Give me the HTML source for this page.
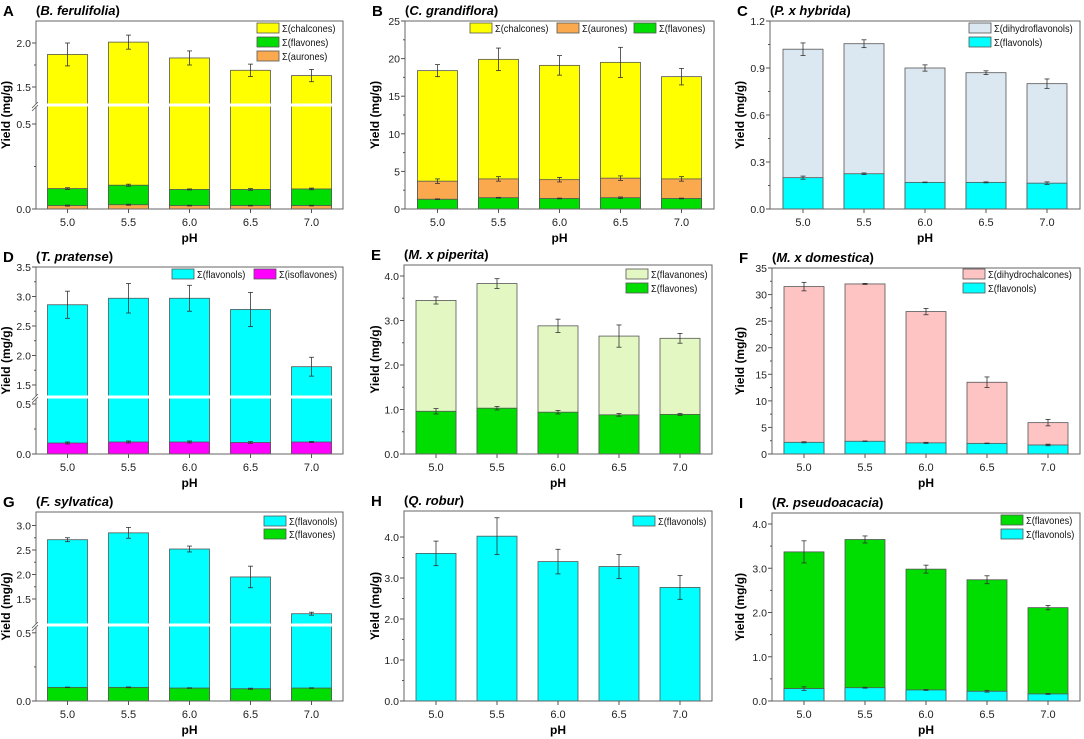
<!DOCTYPE html>
<html><head><meta charset="utf-8"><style>
html,body{margin:0;padding:0;background:#fff;}
svg{display:block;font-family:"Liberation Sans",Arial,sans-serif;}
</style></head><body>
<svg id="fig" width="1084" height="739" viewBox="0 0 1084 739" xmlns="http://www.w3.org/2000/svg"></svg>
<script>
const categories = ['5.0','5.5','6.0','6.5','7.0'];
// Panel A (B. ferulifolia) cumulative tops
const aAuronesTop = [0.02,0.025,0.02,0.02,0.02];
const aAuronesErr = [0.003,0.003,0.002,0.002,0.002];
const aFlavonesTop = [0.12,0.14,0.115,0.115,0.118];
const aFlavonesErr = [0.005,0.006,0.003,0.005,0.005];
const aChalconesTop = [1.87,2.01,1.83,1.69,1.63];
const aChalconesErr = [0.13,0.08,0.08,0.07,0.07];
// Panel B (C. grandiflora)
const bFlavonesTop = [1.3,1.5,1.4,1.5,1.4];
const bFlavonesErr = [0.05,0.05,0.05,0.1,0.05];
const bAuronesTop = [3.7,4.0,3.9,4.1,4.0];
const bAuronesErr = [0.3,0.3,0.3,0.3,0.3];
const bChalconesTop = [18.4,19.9,19.1,19.5,17.6];
const bChalconesErr = [0.8,1.5,1.3,2.0,1.1];
// Panel C (P. x hybrida)
const cFlavonolsTop = [0.20,0.225,0.17,0.17,0.165];
const cFlavonolsErr = [0.01,0.005,0.002,0.003,0.008];
const cDihydroTop = [1.02,1.055,0.90,0.87,0.80];
const cDihydroErr = [0.04,0.025,0.02,0.012,0.03];
// Panel D (T. pratense)
const dIsoTop = [0.11,0.12,0.12,0.115,0.12];
const dIsoErr = [0.01,0.01,0.01,0.008,0.005];
const dFlavonolsTop = [2.86,2.97,2.97,2.78,1.81];
const dFlavonolsErr = [0.23,0.25,0.22,0.29,0.16];
// Panel E (M. x piperita)
const eFlavonesTop = [0.96,1.03,0.94,0.88,0.89];
const eFlavonesErr = [0.06,0.04,0.04,0.03,0.02];
const eFlavanonesTop = [3.45,3.83,2.88,2.65,2.60];
const eFlavanonesErr = [0.08,0.11,0.15,0.25,0.11];
// Panel F (M. x domestica)
const fFlavonolsTop = [2.2,2.4,2.1,2.0,1.7];
const fFlavonolsErr = [0.1,0.05,0.1,0.05,0.15];
const fDihydroTop = [31.5,32.0,26.8,13.5,5.9];
const fDihydroErr = [0.8,0.1,0.6,1.0,0.6];
// Panel G (F. sylvatica)
const gFlavonesTop = [0.10,0.10,0.095,0.09,0.095];
const gFlavonesErr = [0.002,0.003,0.002,0.004,0.002];
const gFlavonolsTop = [2.71,2.85,2.52,1.95,1.20];
const gFlavonolsErr = [0.04,0.11,0.06,0.22,0.03];
// Panel H (Q. robur)
const hFlavonolsTop = [3.6,4.02,3.4,3.28,2.77];
const hFlavonolsErr = [0.3,0.45,0.3,0.29,0.29];
// Panel I (R. pseudoacacia)
const iFlavonolsTop = [0.28,0.30,0.25,0.22,0.16];
const iFlavonolsErr = [0.04,0.01,0.01,0.02,0.01];
const iFlavonesTop = [3.37,3.65,2.98,2.74,2.11];
const iFlavonesErr = [0.25,0.08,0.09,0.09,0.05];
// Tick labels
const tickA = [0.0,0.5,1.5,2.0];
const tickB = [0,5,10,15,20,25];
const tickC = [0.0,0.3,0.6,0.9,1.2];
const tickD = [0.0,0.5,1.5,2.0,2.5,3.0,3.5];
const tickE = [0,1,2,3,4];
const tickF = [0,5,10,15,20,25,30,35];
const tickG = [0.0,0.5,1.5,2.0,2.5,3.0];
const tickH = [0,1,2,3,4];
const tickI = [0,1,2,3,4];

const C = {yellow:'#ffff00',green:'#00dd00',orange:'#fba94e',cyan:'#00ffff',lblue:'#dbe7f1',mag:'#ff00ff',pgreen:'#e2f7c2',pink:'#fec3c3'};
const svg = document.getElementById('fig');
const NS = 'http://www.w3.org/2000/svg';
function mk(tag, attrs, parent){const e=document.createElementNS(NS,tag);for(const k in attrs)e.setAttribute(k,attrs[k]);(parent||svg).appendChild(e);return e;}

function makeScale(segs){
  return function(v){
    for(const s of segs){ if(v>=s.v0 && v<=s.v1) return s.y0+(v-s.v0)/(s.v1-s.v0)*(s.y1-s.y0); }
    const last=segs[segs.length-1];
    if(v>last.v1) return last.y0+(v-last.v0)/(last.v1-last.v0)*(last.y1-last.y0);
    if(v<segs[0].v0) return segs[0].y0;
    for(let i=0;i<segs.length-1;i++){ if(v>segs[i].v1 && v<segs[i+1].v0) return (segs[i].y1+segs[i+1].y0)/2; }
    return segs[0].y0;
  };
}

function panel(p){
  const g = mk('g',{});
  
  
  const W=p.R-p.L;
  const pitch=61;
  const c0=p.L+W/2-2*pitch;
  const bw=40;
  const y=makeScale(p.segs);
  const xAt=i=>c0+i*pitch;
  const lt=mk('text',{x:p.L-33,y:p.T-5,'font-size':15,'font-weight':'bold'},g);lt.textContent=p.letter;
  
  const tt=mk('text',{x:p.L,y:p.T-6,'font-size':13,'font-weight':'bold'},g);
  
  const t1=mk('tspan',{},tt);t1.textContent='(';
  const t2=mk('tspan',{'font-style':'italic'},tt);t2.textContent=p.title;
  const t3=mk('tspan',{},tt);t3.textContent=')';
  p.series.slice().reverse().forEach(s=>{
    s.top.forEach((v,i)=>{
      const yt=y(v), yb=y(0);
      const r=mk('rect',{x:xAt(i)-bw/2,y:yt,width:bw,height:yb-yt,fill:s.color,stroke:'#555','stroke-width':0.8},g);
      
      
    });
  });
  if(p.brk){
    const b=mk('rect',{x:p.L+1,y:p.brk-1.5,width:W-2,height:3,fill:'#fff'},g);
    
  }
  p.series.forEach(s=>{
    s.top.forEach((v,i)=>{
      const e=s.err[i], x=xAt(i);
      const y1=y(v+e), y2=y(Math.max(0,v-e));
      const eg=mk('g',{stroke:'#333','stroke-width':0.8},g);
      
      
      mk('line',{x1:x,x2:x,y1:y1,y2:y2},eg);
      mk('line',{x1:x-2.5,x2:x+2.5,y1:y1,y2:y1},eg);
      mk('line',{x1:x-2.5,x2:x+2.5,y1:y2,y2:y2},eg);
    });
  });
  const fr=mk('rect',{x:p.L,y:p.T,width:W,height:p.B-p.T,fill:'none',stroke:'#666','stroke-width':1},g);
  
  if(p.brk){
    mk('rect',{x:p.L-1,y:p.brk-1.5,width:3,height:3,fill:'#fff'},g);
    mk('line',{x1:p.L-4,y1:p.brk+3,x2:p.L+2,y2:p.brk-3,stroke:'#555','stroke-width':0.8},g);
    mk('line',{x1:p.L-4,y1:p.brk+6,x2:p.L+2,y2:p.brk,stroke:'#555','stroke-width':0.8},g);
  }
  p.ticks.forEach((t,k)=>{
    const yy=y(t);
    mk('line',{x1:p.L-4,x2:p.L,y1:yy,y2:yy,stroke:'#555','stroke-width':1},g);
    const tx=mk('text',{x:p.L-5,y:yy+4,'font-size':10.5,'text-anchor':'end',fill:'#222'},g);
    tx.textContent=p.dec?t.toFixed(p.dec):String(t);
    
    const nt=p.ticks[k+1];
    if(nt!==undefined && (nt-t)<=p.step*1.01){
      const ym=y((t+nt)/2);
      mk('line',{x1:p.L-2,x2:p.L,y1:ym,y2:ym,stroke:'#555','stroke-width':1},g);
    }
  });
  categories.forEach((c,i)=>{
    const x=xAt(i);
    mk('line',{x1:x,x2:x,y1:p.B,y2:p.B+4,stroke:'#555','stroke-width':1},g);
    const tx=mk('text',{x:x,y:p.B+17,'font-size':11,'text-anchor':'middle',fill:'#222'},g);
    tx.textContent=c;
    
  });
  const xt=mk('text',{x:p.L+W/2,y:p.B+33,'font-size':12,'font-weight':'bold','text-anchor':'middle'},g);
  xt.textContent='pH';
  const cy=(p.T+p.B)/2, cx=p.yTitleX;
  const yt=mk('text',{x:cx,y:cy,'font-size':12,'font-weight':'bold','text-anchor':'middle',transform:'rotate(-90 '+cx+' '+cy+')'},g);
  yt.textContent='Yield (mg/g)';
  p.legend.forEach(l=>{
    const lg=mk('g',{},g);
    
    
    mk('rect',{x:l.x,y:l.y,width:22,height:10,fill:l.color,stroke:'#555','stroke-width':0.8},lg);
    const tx=mk('text',{x:l.x+25,y:l.y+9,'font-size':10.5,fill:'#111'},lg);
    tx.textContent='\u03A3('+l.label+')';
    const w=tx.getComputedTextLength();
    if(w>0){tx.setAttribute('textLength',(w*0.88).toFixed(1));tx.setAttribute('lengthAdjust','spacingAndGlyphs');}
  });
}

panel({letter:'A',title:'B. ferulifolia',L:36,R:343,T:21,B:209,brk:105,yTitleX:10,dec:1,step:0.5,ticks:tickA,
 segs:[{v0:0,v1:0.6,y0:209,y1:107},{v0:1.3,v1:2.3,y0:104.6,y1:16.6}],
 series:[{key:'aurones',top:aAuronesTop,err:aAuronesErr,color:C.orange},{key:'flavones',top:aFlavonesTop,err:aFlavonesErr,color:C.green},{key:'chalcones',top:aChalconesTop,err:aChalconesErr,color:C.yellow}],
 legend:[{key:'chalcones',label:'chalcones',color:C.yellow,x:257,y:23},{key:'flavones',label:'flavones',color:C.green,x:257,y:37},{key:'aurones',label:'aurones',color:C.orange,x:257,y:51}]});
panel({letter:'B',title:'C. grandiflora',L:405,R:714,T:21,B:209,yTitleX:379,dec:0,step:5,ticks:tickB,
 segs:[{v0:0,v1:25,y0:209,y1:21}],
 series:[{key:'flavones',top:bFlavonesTop,err:bFlavonesErr,color:C.green},{key:'aurones',top:bAuronesTop,err:bAuronesErr,color:C.orange},{key:'chalcones',top:bChalconesTop,err:bChalconesErr,color:C.yellow}],
 legend:[{key:'chalcones',label:'chalcones',color:C.yellow,x:470,y:23},{key:'aurones',label:'aurones',color:C.orange,x:557,y:23},{key:'flavones',label:'flavones',color:C.green,x:634,y:23}]});
panel({letter:'C',title:'P. x hybrida',L:770,R:1080,T:21,B:209,yTitleX:744,dec:1,step:0.3,ticks:tickC,
 segs:[{v0:0,v1:1.2,y0:209,y1:21}],
 series:[{key:'flavonols',top:cFlavonolsTop,err:cFlavonolsErr,color:C.cyan},{key:'dihydroflavonols',top:cDihydroTop,err:cDihydroErr,color:C.lblue}],
 legend:[{key:'dihydroflavonols',label:'dihydroflavonols',color:C.lblue,x:969,y:23},{key:'flavonols',label:'flavonols',color:C.cyan,x:969,y:37}]});
panel({letter:'D',title:'T. pratense',L:36,R:343,T:267,B:454,brk:397,yTitleX:10,dec:1,step:0.5,ticks:tickD,
 segs:[{v0:0,v1:0.57,y0:454,y1:397},{v0:1.33,v1:3.5,y0:395,y1:267}],
 series:[{key:'isoflavones',top:dIsoTop,err:dIsoErr,color:C.mag},{key:'flavonols',top:dFlavonolsTop,err:dFlavonolsErr,color:C.cyan}],
 legend:[{key:'flavonols',label:'flavonols',color:C.cyan,x:172,y:269},{key:'isoflavones',label:'isoflavones',color:C.mag,x:254,y:269}]});
panel({letter:'E',title:'M. x piperita',L:404,R:712,T:265,B:454,yTitleX:379,dec:1,step:1,ticks:tickE,
 segs:[{v0:0,v1:4,y0:454,y1:276}],
 series:[{key:'flavones',top:eFlavonesTop,err:eFlavonesErr,color:C.green},{key:'flavanones',top:eFlavanonesTop,err:eFlavanonesErr,color:C.pgreen}],
 legend:[{key:'flavanones',label:'flavanones',color:C.pgreen,x:626,y:269},{key:'flavones',label:'flavones',color:C.green,x:626,y:283}]});
panel({letter:'F',title:'M. x domestica',L:772,R:1080,T:268,B:454,yTitleX:744,dec:0,step:5,ticks:tickF,
 segs:[{v0:0,v1:35,y0:454,y1:268}],
 series:[{key:'flavonols',top:fFlavonolsTop,err:fFlavonolsErr,color:C.cyan},{key:'dihydrochalcones',top:fDihydroTop,err:fDihydroErr,color:C.pink}],
 legend:[{key:'dihydrochalcones',label:'dihydrochalcones',color:C.pink,x:963,y:269},{key:'flavonols',label:'flavonols',color:C.cyan,x:963,y:283}]});
panel({letter:'G',title:'F. sylvatica',L:36,R:343,T:512,B:701,brk:625,yTitleX:10,dec:1,step:0.5,ticks:tickG,
 segs:[{v0:0,v1:0.55,y0:701,y1:626},{v0:1.0,v1:3.3,y0:623.5,y1:510.8}],
 series:[{key:'flavones',top:gFlavonesTop,err:gFlavonesErr,color:C.green},{key:'flavonols',top:gFlavonolsTop,err:gFlavonolsErr,color:C.cyan}],
 legend:[{key:'flavonols',label:'flavonols',color:C.cyan,x:264,y:516},{key:'flavones',label:'flavones',color:C.green,x:264,y:529}]});
panel({letter:'H',title:'Q. robur',L:404,R:712,T:511,B:701,yTitleX:379,dec:1,step:1,ticks:tickH,
 segs:[{v0:0,v1:4,y0:701,y1:537}],
 series:[{key:'flavonols',top:hFlavonolsTop,err:hFlavonolsErr,color:C.cyan}],
 legend:[{key:'flavonols',label:'flavonols',color:C.cyan,x:633,y:516}]});
panel({letter:'I',title:'R. pseudoacacia',L:772,R:1080,T:513,B:701,yTitleX:744,dec:1,step:1,ticks:tickI,
 segs:[{v0:0,v1:4,y0:701,y1:524}],
 series:[{key:'flavonols',top:iFlavonolsTop,err:iFlavonolsErr,color:C.cyan},{key:'flavones',top:iFlavonesTop,err:iFlavonesErr,color:C.green}],
 legend:[{key:'flavones',label:'flavones',color:C.green,x:1001,y:515},{key:'flavonols',label:'flavonols',color:C.cyan,x:1001,y:529}]});
</script>
</body></html>
